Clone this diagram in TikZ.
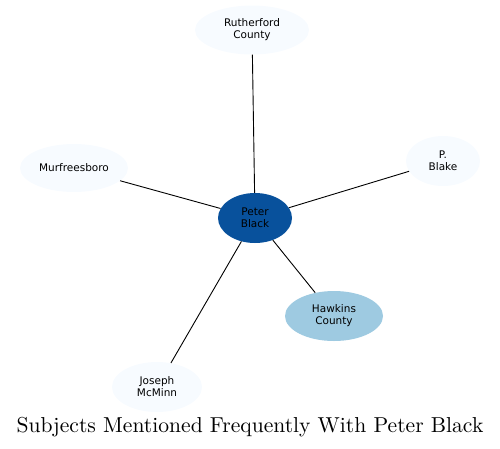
\documentclass[tikz,border=0pt]{standalone}
\usepackage{fontspec}
\newfontfamily\nodefont{DejaVu Sans}
\newfontfamily\titlefont{lmroman10-regular}[Extension=.otf]
\usetikzlibrary{shapes.geometric}
\definecolor{hub}{HTML}{08519C}
\definecolor{mid}{HTML}{9ECAE1}
\definecolor{pale}{HTML}{F7FBFF}

\tikzset{
  subj/.style={ellipse, fill=pale, inner sep=0pt, align=center,
    font=\nodefont\fontsize{10.5}{12}\selectfont},
}

\begin{document}
\begin{tikzpicture}[x=1pt, y=-1pt]
  \useasboundingbox (0,0) rectangle (500,448);
  \node[subj, fill=hub, minimum width=74pt, minimum height=50pt] (pb) at (255,218) {Peter\\Black};
  \node[subj, minimum width=114pt, minimum height=49pt] (rc) at (252,30) {Rutherford\\County};
  \node[subj, minimum width=108pt, minimum height=48pt] (mb) at (74,168) {Murfreesboro};
  \node[subj, minimum width=74pt, minimum height=50pt] (pbl) at (443,161) {P.\\Blake};
  \node[subj, fill=mid, minimum width=98pt, minimum height=50pt] (hc) at (334,316) {Hawkins\\County};
  \node[subj, minimum width=90pt, minimum height=50pt] (jm) at (157,387) {Joseph\\McMinn};
  \path[-, line width=0.9pt]
  (pb) edge (rc)
  (pb) edge (mb)
  (pb) edge (pbl)
  (pb) edge (hc)
  (pb) edge (jm)
;
  \node[anchor=base, inner sep=0pt] (title) at (250,432) {\titlefont\fontsize{21.6}{24}\selectfont Subjects Mentioned Frequently With Peter Black};
\end{tikzpicture}
\end{document}
